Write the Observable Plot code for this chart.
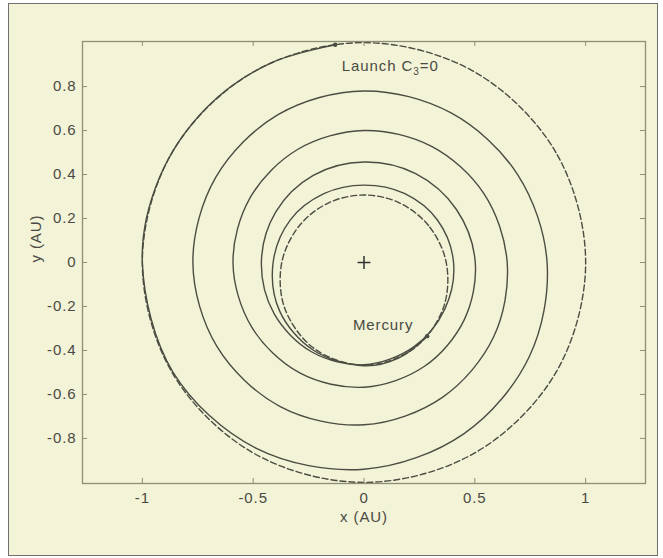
<!DOCTYPE html>
<html>
<head>
<meta charset="utf-8">
<script src="https://cdn.jsdelivr.net/npm/d3@7"></script>
<script src="https://cdn.jsdelivr.net/npm/@observablehq/plot@0.6"></script>
<style>
  html, body { margin: 0; padding: 0; background: #ffffff; }
  #wrap { position: relative; width: 663px; height: 558px; overflow: hidden; }
  #box { position: absolute; left: 8px; top: 3px; width: 648px; height: 551px;
         border: 1px solid #707070; background: #f3f3d7; }
  #chart { position: absolute; left: 0; top: 0; }
  #chart svg { background: transparent !important; }
  #chart svg text { letter-spacing: 0.9px; }
</style>
</head>
<body>
<div id="wrap"><div id="box"></div><div id="chart"></div></div>
<script>
// Tick values
const xTicks = [-1, -0.5, 0, 0.5, 1];
const yTicks = [-0.8, -0.6, -0.4, -0.2, 0, 0.2, 0.4, 0.6, 0.8];

// Earth orbit (dashed)
const earthX = [1, 0.866, 0.5, 0, -0.5, -0.866, -1, -0.866, -0.5, 0, 0.5, 0.866];
const earthY = [0, 0.5, 0.866, 1, 0.866, 0.5, 0, -0.5, -0.866, -1, -0.866, -0.5];

// Mercury orbit (dashed)
const mercuryX = [0.371, 0.291, 0.157, 0, -0.157, -0.291, -0.371, -0.358, -0.2255, 0, 0.2255, 0.358];
const mercuryY = [0, 0.168, 0.2725, 0.307, 0.2725, 0.168, 0, -0.2066, -0.3906, -0.467, -0.3906, -0.2066];

// Spiral trajectory (solid), launch -> Mercury
const spiralX = [-0.13, -0.423, -0.707, -0.924, -1.0, -0.862, -0.488, 0, 0.45, 0.745, 0.826,
  0.693, 0.393, 0, -0.388, -0.669, -0.772, -0.663, -0.378, 0, 0.354,
  0.585, 0.646, 0.541, 0.305, 0, -0.298, -0.513, -0.591, -0.507, -0.29,
  0, 0.273, 0.452, 0.502, 0.417, 0.233, 0, -0.229, -0.398, -0.463,
  -0.405, -0.235, 0, 0.223, 0.365, 0.404, 0.332, 0.182, 0, -0.181,
  -0.333, -0.41, -0.381, -0.23, 0, 0.158, 0.285];
const spiralY = [0.99, 0.906, 0.707, 0.383, 0, -0.498, -0.844, -0.94, -0.779, -0.43, 0,
  0.4, 0.68, 0.78, 0.672, 0.387, 0, -0.383, -0.655, -0.738, -0.613,
  -0.338, 0, 0.313, 0.528, 0.6, 0.515, 0.296, 0, -0.293, -0.502,
  -0.567, -0.472, -0.261, 0, 0.241, 0.404, 0.457, 0.396, 0.23, 0,
  -0.234, -0.407, -0.465, -0.385, -0.211, 0, 0.192, 0.314, 0.352, 0.313,
  0.193, 0, -0.22, -0.398, -0.47, -0.434, -0.335];

const sunPos = [{x: 0, y: 0}];
const launchLabel = [{x: -0.10, y: 0.894, t: "Launch C3=0"}];
const mercuryLabel = [{x: -0.05, y: -0.283, t: "Mercury"}];

const earth = earthX.map((x, i) => ({x, y: earthY[i]}));
const mercury = mercuryX.map((x, i) => ({x, y: mercuryY[i]}));
const spiral = spiralX.map((x, i) => ({x, y: spiralY[i]}));
const launchPt = [spiral[0]];
const endPt = [spiral[spiral.length - 1]];

const lineColor = "#4c4c42";
const frameColor = "#8e8e76";
const textColor = "#4a4a44";
const font = "'Liberation Sans', Arial, Helvetica, sans-serif";

const thinPlus = {
  draw(ctx, size) {
    const r = Math.sqrt(size) * 0.9;
    ctx.moveTo(-r, 0); ctx.lineTo(r, 0);
    ctx.moveTo(0, -r); ctx.lineTo(0, r);
  }
};

const W = 663, H = 558, mL = 82, mR = 18, mT = 41, mB = 75;
const pw = W - mL - mR, ph = H - mT - mB;

const chart = Plot.plot({
  width: W, height: H,
  marginLeft: mL, marginRight: mR, marginTop: mT, marginBottom: mB,
  style: {background: "transparent", fontFamily: font},
  x: {domain: [-1.27, 1.27]},
  y: {domain: [-1.005, 1.005]},
  marks: [
    Plot.line(earth, {x: "x", y: "y", curve: "catmull-rom-closed", stroke: lineColor, strokeWidth: 1.4, strokeDasharray: "6,3"}),
    Plot.line(mercury, {x: "x", y: "y", curve: "catmull-rom-closed", stroke: lineColor, strokeWidth: 1.4, strokeDasharray: "6,3"}),
    Plot.line(spiral, {x: "x", y: "y", curve: "catmull-rom", stroke: lineColor, strokeWidth: 1.4}),
    Plot.dot(launchPt, {x: "x", y: "y", r: 2.2, fill: lineColor}),
    Plot.dot(endPt, {x: "x", y: "y", r: 2.2, fill: lineColor}),
    Plot.dot(sunPos, {x: "x", y: "y", symbol: thinPlus, r: 4, stroke: "#333", strokeWidth: 1.5, fill: "none"}),
    Plot.frame({stroke: frameColor, strokeWidth: 1.3}),
    Plot.tickX(xTicks, {x: d => d, insetTop: ph - 5, stroke: frameColor}),
    Plot.tickX(xTicks, {x: d => d, insetBottom: ph - 5, stroke: frameColor}),
    Plot.tickY(yTicks, {y: d => d, insetRight: pw - 5, stroke: frameColor}),
    Plot.tickY(yTicks, {y: d => d, insetLeft: pw - 5, stroke: frameColor}),
    Plot.axisX(xTicks, {anchor: "bottom", tickSize: 0, tickPadding: 9, tickFormat: d => String(d), fontSize: 15, fill: textColor, label: null}),
    Plot.axisY(yTicks, {anchor: "left", tickSize: 0, tickPadding: 6, tickFormat: d => String(d), fontSize: 15, fill: textColor, label: null}),
    Plot.text(["x (AU)"], {frameAnchor: "bottom", dy: 38, text: d => d, fontSize: 15, fill: textColor}),
    Plot.text(["y (AU)"], {frameAnchor: "left", dx: -46, rotate: -90, text: d => d, fontSize: 15, fill: textColor}),
    Plot.text(launchLabel, {x: "x", y: "y", text: "t", textAnchor: "start", fontSize: 15, fill: textColor, className: "launch-label"}),
    Plot.text(mercuryLabel, {x: "x", y: "y", text: "t", textAnchor: "start", fontSize: 15, fill: textColor})
  ]
});
document.getElementById("chart").appendChild(chart);

// Render the "3" in the launch label as a subscript
d3.select(chart).selectAll("g.launch-label text").each(function() {
  const t = d3.select(this);
  t.text(null);
  t.append("tspan").text("Launch C");
  t.append("tspan").attr("font-size", 10).attr("dy", 4).text("3");
  t.append("tspan").attr("dy", -4).text("=0");
});
</script>
</body>
</html>
